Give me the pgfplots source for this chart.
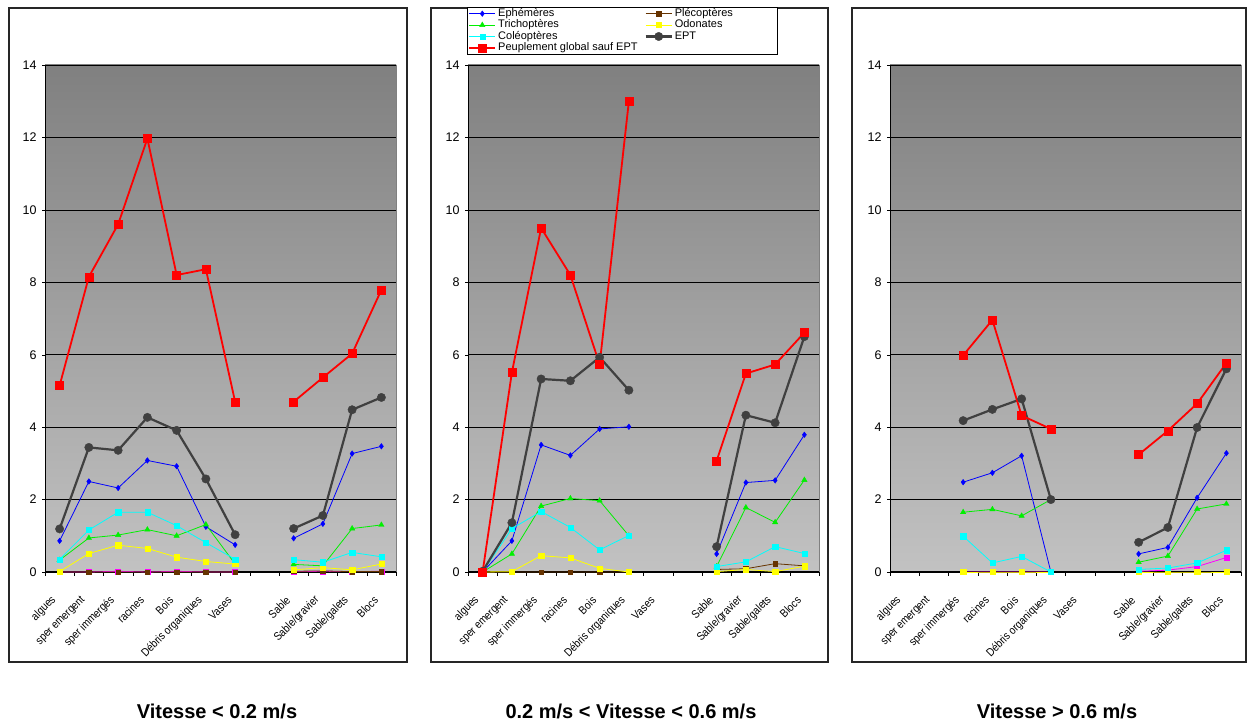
\documentclass[border=0pt]{standalone}
\usepackage{fontspec}
\setmainfont{Liberation Sans}
\newfontfamily\narrowfont[FakeStretch=0.86]{Liberation Sans}
\usepackage{pgfplots}
\usepackage{pgfplotstable}
\pgfplotsset{compat=1.18}
\definecolor{cEph}{RGB}{0,0,255}
\definecolor{cPle}{RGB}{102,51,0}
\definecolor{cTri}{RGB}{0,240,0}
\definecolor{cOdo}{RGB}{255,255,0}
\definecolor{cCol}{RGB}{0,255,255}
\definecolor{cEPT}{RGB}{64,64,64}
\definecolor{cPeu}{RGB}{255,0,0}
\definecolor{cMag}{RGB}{255,0,255}
\definecolor{bgTop}{RGB}{128,128,128}
\definecolor{bgBot}{RGB}{194,194,194}

\pgfplotstableread{
x eph ple tri odo col ept peu mag
0 0.86 0.00 0.33 0.01 0.35 1.19 5.15 0.00
1 2.50 0.00 0.94 0.51 1.16 3.44 8.15 0.00
2 2.32 0.00 1.02 0.74 1.65 3.36 9.60 0.02
3 3.08 0.00 1.17 0.65 1.65 4.27 11.97 0.00
4 2.92 0.00 1.00 0.41 1.28 3.91 8.20 0.02
5 1.25 0.00 1.31 0.29 0.81 2.57 8.36 0.00
6 0.75 0.00 0.22 0.22 0.35 1.03 4.70 0.00
7 nan nan nan nan nan nan nan nan
8 0.93 0.02 0.21 0.06 0.34 1.20 4.70 0.01
9 1.33 0.03 0.17 0.12 0.27 1.56 5.37 0.02
10 3.27 0.01 1.20 0.06 0.54 4.48 6.03 0.01
11 3.47 0.01 1.30 0.22 0.42 4.82 7.79 0.02
}\tabA

\pgfplotstableread{
x eph ple tri odo col ept peu
0 0.00 0.00 0.00 0.00 0.00 0.02 0.00
1 0.86 0.00 0.50 0.01 1.20 1.36 5.51
2 3.51 0.00 1.82 0.45 1.67 5.33 9.50
3 3.22 0.00 2.03 0.39 1.23 5.28 8.20
4 3.95 0.00 1.97 0.10 0.61 5.93 5.73
5 4.01 0.00 1.00 0.00 1.01 5.02 13.00
6 nan nan nan nan nan nan nan
7 nan nan nan nan nan nan nan
8 0.50 0.07 0.15 0.01 0.15 0.70 3.07
9 2.47 0.09 1.78 0.07 0.28 4.33 5.48
10 2.53 0.23 1.37 0.01 0.70 4.12 5.73
11 3.79 0.17 2.54 0.16 0.51 6.50 6.61
}\tabB

\pgfplotstableread{
x eph ple tri odo col ept peu mag
0 nan nan nan nan nan nan nan nan
1 nan nan nan nan nan nan nan nan
2 2.48 0.00 1.65 0.00 0.99 4.18 5.98 0.00
3 2.74 0.00 1.73 0.00 0.25 4.49 6.96 0.00
4 3.21 0.00 1.55 0.00 0.43 4.78 4.32 0.00
5 0.00 0.00 2.00 0.00 0.00 2.00 3.95 0.00
6 nan nan nan nan nan nan nan nan
7 nan nan nan nan nan nan nan nan
8 0.50 0.00 0.27 0.00 0.07 0.82 3.24 0.02
9 0.68 0.00 0.44 0.00 0.11 1.23 3.90 0.05
10 2.05 0.00 1.74 0.00 0.25 3.99 4.65 0.15
11 3.28 0.00 1.88 0.00 0.60 5.61 5.77 0.40
}\tabC

\pgfplotsset{
  panel/.style={
    scale only axis, width=351pt, height=507pt,
    xmin=-0.5, xmax=11.5, ymin=0, ymax=14,
    ytick={0,2,...,14},
    xtick={0,...,11},
    xticklabels={algues,sper emergent,sper immergés,racines,Bois,Débris organiques,Vases,,Sable,Sable/gravier,Sable/galets,Blocs},
    minor xtick={-0.5,0.5,...,11.5},
    axis x line*=bottom, axis y line*=left,
    axis line style={-, black},
    x axis line style={line width=1.2pt},
    tick align=outside,
    major x tick style={draw=none},
    minor x tick style={black, line width=0.5pt},
    minor tick length=4pt, major tick length=3pt,
    ytick style={black},
    ymajorgrids, major grid style={black, line width=0.6pt},
    axis background/.style={top color=bgTop, bottom color=bgBot, draw=gray},
    clip=false, unbounded coords=jump,
    /pgf/number format/assume math mode=true,
    yticklabel style={font=\fontsize{12.5}{14}\selectfont, xshift=-2pt},
    xticklabel style={font=\narrowfont\fontsize{11.5}{13}\selectfont, xshift=-3pt, yshift=-21pt, rotate=45, anchor=east},
  },
  sEph/.style={color=cEph, line width=0.8pt, mark=diamond*, mark size=2.8pt, mark options={line width=0.4pt}},
  sPle/.style={color=cPle, line width=0.8pt, mark=square*, mark size=2.2pt, mark options={line width=0.4pt}},
  sTri/.style={color=cTri, line width=0.8pt, mark=triangle*, mark size=3.1pt, mark options={line width=0.4pt}},
  sOdo/.style={color=cOdo, line width=0.8pt, mark=square*, mark size=2.6pt, mark options={line width=0.4pt}},
  sCol/.style={color=cCol, line width=0.8pt, mark=square*, mark size=2.6pt, mark options={line width=0.4pt}},
  sEPT/.style={color=cEPT, line width=2.2pt, mark=*, mark size=4.2pt, mark options={line width=0.4pt}},
  sPeu/.style={color=cPeu, line width=1.8pt, mark=square*, mark size=4pt, mark options={line width=0.4pt}},
  sMag/.style={color=cMag, line width=0.8pt, mark=square*, mark size=2.5pt, mark options={line width=0.4pt}},
}

\begin{document}
\begin{tikzpicture}
\path[use as bounding box] (0pt,0pt) rectangle (1250pt,722pt);
\fill[white] (0pt,0pt) rectangle (1250pt,722pt);
\draw[black!85, line width=1.2pt] (9pt,60pt) rectangle (407pt,714pt);
\draw[black!85, line width=1.2pt] (431pt,60pt) rectangle (828pt,714pt);
\draw[black!85, line width=1.2pt] (852pt,60pt) rectangle (1246pt,714pt);

% Panel 1
\begin{axis}[panel, at={(45pt,150pt)}, anchor=south west]
\addplot[sMag] table[x=x,y=mag]{\tabA};
\addplot[sPle] table[x=x,y=ple]{\tabA};
\addplot[sEph] table[x=x,y=eph]{\tabA};
\addplot[sTri] table[x=x,y=tri]{\tabA};
\addplot[sOdo] table[x=x,y=odo]{\tabA};
\addplot[sCol] table[x=x,y=col]{\tabA};
\addplot[sEPT] table[x=x,y=ept]{\tabA};
\addplot[sPeu] table[x=x,y=peu]{\tabA};
\end{axis}

% Panel 2
\begin{axis}[panel, at={(468pt,150pt)}, anchor=south west,
  legend columns=2, legend cell align=left,
  legend style={at={(0,1)}, anchor=south west, xshift=-1pt, yshift=10pt,
    draw=black, line width=0.8pt, fill=white, inner sep=1pt,
    font=\fontsize{11}{11}\selectfont, row sep=0pt,
    nodes={inner ysep=0pt, text height=8.5pt, text depth=2.9pt},
    /tikz/every even column/.append style={column sep=5pt}},
  legend image code/.code={\draw[mark repeat=2,mark phase=2] plot coordinates {(0pt,0pt)(13pt,0pt)(26pt,0pt)};}]
\addplot[sEph] table[x=x,y=eph]{\tabB}; \addlegendentry{Ephémères}
\addplot[sPle] table[x=x,y=ple]{\tabB}; \addlegendentry{\makebox[100pt][l]{Plécoptères}}
\addplot[sTri] table[x=x,y=tri]{\tabB}; \addlegendentry{Trichoptères}
\addplot[sOdo] table[x=x,y=odo]{\tabB}; \addlegendentry{Odonates}
\addplot[sCol] table[x=x,y=col]{\tabB}; \addlegendentry{Coléoptères}
\addplot[sEPT] table[x=x,y=ept]{\tabB}; \addlegendentry{EPT}
\addplot[sPeu] table[x=x,y=peu]{\tabB}; \addlegendentry{Peuplement global sauf EPT}
\end{axis}

% Panel 3
\begin{axis}[panel, at={(890pt,150pt)}, anchor=south west]
\addplot[sMag] table[x=x,y=mag]{\tabC};
\addplot[sPle] table[x=x,y=ple]{\tabC};
\addplot[sEph] table[x=x,y=eph]{\tabC};
\addplot[sTri] table[x=x,y=tri]{\tabC};
\addplot[sOdo] table[x=x,y=odo]{\tabC};
\addplot[sCol] table[x=x,y=col]{\tabC};
\addplot[sEPT] table[x=x,y=ept]{\tabC};
\addplot[sPeu] table[x=x,y=peu]{\tabC};
\end{axis}

\node[font=\bfseries\fontsize{20}{24}\selectfont, anchor=base] at (217pt,3pt) {Vitesse < 0.2 m/s};
\node[font=\bfseries\fontsize{20}{24}\selectfont, anchor=base] at (631pt,3pt) {0.2 m/s < Vitesse < 0.6 m/s};
\node[font=\bfseries\fontsize{20}{24}\selectfont, anchor=base] at (1057pt,3pt) {Vitesse > 0.6 m/s};
\end{tikzpicture}
\end{document}
